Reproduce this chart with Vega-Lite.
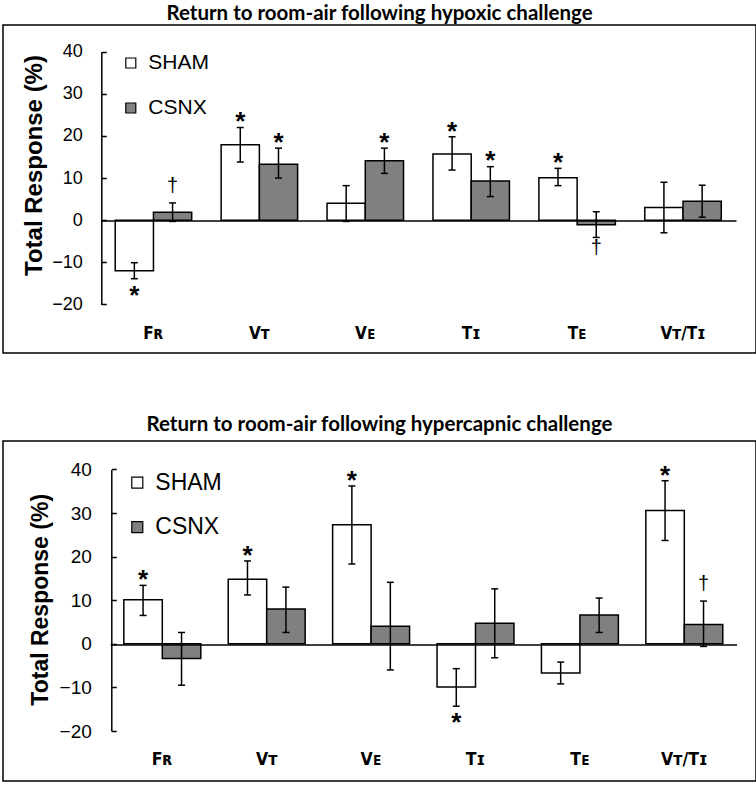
{
  "$schema": "https://vega.github.io/schema/vega-lite/v6.json",
  "padding": {"left": 2, "top": 2, "right": 0, "bottom": 0},
  "background": "white",
  "spacing": 59,
  "config": {
    "view": {"stroke": "black", "strokeWidth": 1.5},
    "axis": {"domainColor": "black", "tickColor": "black", "labelColor": "black", "titleColor": "black", "labelFont": "Liberation Sans", "titleFont": "Liberation Sans", "grid": false},
    "title": {"font": "Lato", "fontSize": 20.5, "fontWeight": "bold", "color": "black", "anchor": "middle"},
    "text": {"color": "black"}
  },
  "resolve": {"scale": {"x": "independent", "y": "independent", "xOffset": "independent", "fill": "independent"}, "legend": {"fill": "independent"}},
  "data": {"values": [
    {"panel": "hypoxic", "param": "Fʀ", "group": "SHAM", "mean": -12.0, "lo": -13.9, "hi": -10.1, "sig": "*", "sigpos": "below"},
    {"panel": "hypoxic", "param": "Fʀ", "group": "CSNX", "mean": 1.9, "lo": -0.3, "hi": 4.1, "sig": "†", "sigpos": "above"},
    {"panel": "hypoxic", "param": "Vᴛ", "group": "SHAM", "mean": 17.9, "lo": 13.8, "hi": 22.0, "sig": "*", "sigpos": "above"},
    {"panel": "hypoxic", "param": "Vᴛ", "group": "CSNX", "mean": 13.3, "lo": 10.0, "hi": 17.1, "sig": "*", "sigpos": "above"},
    {"panel": "hypoxic", "param": "Vᴇ", "group": "SHAM", "mean": 4.0, "lo": -0.3, "hi": 8.2, "sig": "", "sigpos": ""},
    {"panel": "hypoxic", "param": "Vᴇ", "group": "CSNX", "mean": 14.1, "lo": 11.1, "hi": 17.1, "sig": "*", "sigpos": "above"},
    {"panel": "hypoxic", "param": "Tɪ", "group": "SHAM", "mean": 15.7, "lo": 11.9, "hi": 19.8, "sig": "*", "sigpos": "above"},
    {"panel": "hypoxic", "param": "Tɪ", "group": "CSNX", "mean": 9.3, "lo": 5.6, "hi": 12.7, "sig": "*", "sigpos": "above"},
    {"panel": "hypoxic", "param": "Tᴇ", "group": "SHAM", "mean": 10.1, "lo": 8.2, "hi": 12.3, "sig": "*", "sigpos": "above"},
    {"panel": "hypoxic", "param": "Tᴇ", "group": "CSNX", "mean": -1.1, "lo": -4.1, "hi": 2.0, "sig": "†", "sigpos": "below"},
    {"panel": "hypoxic", "param": "Vᴛ/Tɪ", "group": "SHAM", "mean": 3.0, "lo": -3.0, "hi": 9.0, "sig": "", "sigpos": ""},
    {"panel": "hypoxic", "param": "Vᴛ/Tɪ", "group": "CSNX", "mean": 4.5, "lo": 0.7, "hi": 8.3, "sig": "", "sigpos": ""},
    {"panel": "hypercapnic", "param": "Fʀ", "group": "SHAM", "mean": 10.1, "lo": 6.5, "hi": 13.4, "sig": "*", "sigpos": "above"},
    {"panel": "hypercapnic", "param": "Fʀ", "group": "CSNX", "mean": -3.4, "lo": -9.5, "hi": 2.6, "sig": "", "sigpos": ""},
    {"panel": "hypercapnic", "param": "Vᴛ", "group": "SHAM", "mean": 14.8, "lo": 11.2, "hi": 19.0, "sig": "*", "sigpos": "above"},
    {"panel": "hypercapnic", "param": "Vᴛ", "group": "CSNX", "mean": 8.0, "lo": 2.6, "hi": 13.0, "sig": "", "sigpos": ""},
    {"panel": "hypercapnic", "param": "Vᴇ", "group": "SHAM", "mean": 27.3, "lo": 18.3, "hi": 36.2, "sig": "*", "sigpos": "above"},
    {"panel": "hypercapnic", "param": "Vᴇ", "group": "CSNX", "mean": 4.0, "lo": -6.0, "hi": 14.1, "sig": "", "sigpos": ""},
    {"panel": "hypercapnic", "param": "Tɪ", "group": "SHAM", "mean": -9.9, "lo": -14.3, "hi": -5.7, "sig": "*", "sigpos": "below"},
    {"panel": "hypercapnic", "param": "Tɪ", "group": "CSNX", "mean": 4.7, "lo": -3.2, "hi": 12.6, "sig": "", "sigpos": ""},
    {"panel": "hypercapnic", "param": "Tᴇ", "group": "SHAM", "mean": -6.7, "lo": -9.2, "hi": -4.2, "sig": "", "sigpos": ""},
    {"panel": "hypercapnic", "param": "Tᴇ", "group": "CSNX", "mean": 6.6, "lo": 2.6, "hi": 10.5, "sig": "", "sigpos": ""},
    {"panel": "hypercapnic", "param": "Vᴛ/Tɪ", "group": "SHAM", "mean": 30.6, "lo": 23.7, "hi": 37.4, "sig": "*", "sigpos": "above"},
    {"panel": "hypercapnic", "param": "Vᴛ/Tɪ", "group": "CSNX", "mean": 4.4, "lo": -0.6, "hi": 9.8, "sig": "†", "sigpos": "above"}
  ]},
  "vconcat": [
    {
      "title": {"text": "Return to room-air following hypoxic challenge", "offset": 1},
      "width": 753,
      "height": 328,
      "transform": [{"filter": "datum.panel == 'hypoxic'"}],
      "encoding": {
        "x": {"field": "param", "type": "nominal", "sort": ["Fʀ", "Vᴛ", "Vᴇ", "Tɪ", "Tᴇ", "Vᴛ/Tɪ"],
          "scale": {"range": [97.5, 733], "paddingInner": 0.278, "paddingOuter": 0.139},
          "axis": {"title": null, "orient": "bottom", "offset": -132.6, "ticks": false, "tickSize": 0, "labelPadding": 113.3, "labelBaseline": "middle", "labelAngle": 0, "domainWidth": 1.5, "zindex": 1, "labelFont": "DejaVu Sans Condensed, DejaVu Sans", "labelFontSize": 17, "labelFontWeight": "bold"}},
        "xOffset": {"field": "group", "type": "nominal", "sort": ["SHAM", "CSNX"]}
      },
      "layer": [
        {
          "mark": {"type": "bar", "stroke": "black", "strokeWidth": 1.5},
          "encoding": {
            "y": {"field": "mean", "type": "quantitative",
              "scale": {"domain": [-20, 40], "range": [279.4, 26.7], "nice": false},
              "axis": {"title": "Total Response (%)", "values": [-20, -10, 0, 10, 20, 30, 40], "offset": -98.3, "tickSize": -5, "labelPadding": 24, "domainWidth": 1.5, "tickWidth": 1.5, "labelFontSize": 18, "titleFontSize": 24, "titleFontWeight": "bold", "titleX": -67, "titleY": 140, "titleAlign": "center", "titleBaseline": "middle", "titleAngle": -90}},
            "fill": {"field": "group", "type": "nominal", "sort": ["SHAM", "CSNX"],
              "scale": {"domain": ["SHAM", "CSNX"], "range": ["white", "#808080"]},
              "legend": {"title": null, "orient": "none", "legendX": 117.3, "legendY": 27.5, "symbolType": "square", "symbolSize": 100, "symbolStrokeColor": "black", "symbolStrokeWidth": 1.2, "labelFontSize": 21, "labelFont": "Liberation Sans", "labelColor": "black", "labelOffset": 7, "rowPadding": 23, "padding": 0}}
          }
        },
        {
          "mark": {"type": "rule", "strokeWidth": 1.5, "color": "black"},
          "encoding": {"y": {"field": "lo", "type": "quantitative"}, "y2": {"field": "hi"}}
        },
        {
          "mark": {"type": "tick", "orient": "horizontal", "size": 7, "thickness": 1.5, "color": "black", "opacity": 1},
          "encoding": {"y": {"field": "lo", "type": "quantitative"}}
        },
        {
          "mark": {"type": "tick", "orient": "horizontal", "size": 7, "thickness": 1.5, "color": "black", "opacity": 1},
          "encoding": {"y": {"field": "hi", "type": "quantitative"}}
        },
        {
          "transform": [{"filter": "datum.sig == '*' && datum.sigpos == 'above'"}],
          "mark": {"type": "text", "color": "black", "font": "Liberation Sans", "fontWeight": "bold", "fontSize": 26, "baseline": "alphabetic", "dy": 2.8},
          "encoding": {"y": {"field": "hi", "type": "quantitative"}, "text": {"field": "sig"}}
        },
        {
          "transform": [{"filter": "datum.sig == '*' && datum.sigpos == 'below'"}],
          "mark": {"type": "text", "color": "black", "font": "Liberation Sans", "fontWeight": "bold", "fontSize": 26, "baseline": "alphabetic", "dy": 24.8},
          "encoding": {"y": {"field": "lo", "type": "quantitative"}, "text": {"field": "sig"}}
        },
        {
          "transform": [{"filter": "datum.sig == '†' && datum.sigpos == 'above'"}],
          "mark": {"type": "text", "color": "black", "font": "Liberation Sans", "fontSize": 20, "baseline": "alphabetic", "dy": -11},
          "encoding": {"y": {"field": "hi", "type": "quantitative"}, "text": {"field": "sig"}}
        },
        {
          "transform": [{"filter": "datum.sig == '†' && datum.sigpos == 'below'"}],
          "mark": {"type": "text", "color": "black", "font": "Liberation Sans", "fontSize": 20, "baseline": "alphabetic", "dy": 17},
          "encoding": {"y": {"field": "lo", "type": "quantitative"}, "text": {"field": "sig"}}
        }
      ]
    },
    {
      "title": {"text": "Return to room-air following hypercapnic challenge", "offset": 6},
      "width": 753,
      "height": 340,
      "transform": [{"filter": "datum.panel == 'hypercapnic'"}],
      "encoding": {
        "x": {"field": "param", "type": "nominal", "sort": ["Fʀ", "Vᴛ", "Vᴇ", "Tɪ", "Tᴇ", "Vᴛ/Tɪ"],
          "scale": {"range": [107.1, 733.5], "paddingInner": 0.263, "paddingOuter": 0.1315},
          "axis": {"title": null, "orient": "bottom", "offset": -136.6, "ticks": false, "tickSize": 0, "labelPadding": 114.8, "labelBaseline": "middle", "labelAngle": 0, "domainWidth": 1.5, "zindex": 1, "labelFont": "DejaVu Sans Condensed, DejaVu Sans", "labelFontSize": 17.5, "labelFontWeight": "bold"}},
        "xOffset": {"field": "group", "type": "nominal", "sort": ["SHAM", "CSNX"]}
      },
      "layer": [
        {
          "mark": {"type": "bar", "stroke": "black", "strokeWidth": 1.5},
          "encoding": {
            "y": {"field": "mean", "type": "quantitative",
              "scale": {"domain": [-20, 40], "range": [290, 28.4], "nice": false},
              "axis": {"title": "Total Response (%)", "values": [-20, -10, 0, 10, 20, 30, 40], "offset": -108.3, "tickSize": -5, "labelPadding": 25, "domainWidth": 1.5, "tickWidth": 1.5, "labelFontSize": 19, "titleFontSize": 23, "titleFontWeight": "bold", "titleX": -71, "titleY": 158.3, "titleAlign": "center", "titleBaseline": "middle", "titleAngle": -90}},
            "fill": {"field": "group", "type": "nominal", "sort": ["SHAM", "CSNX"],
              "scale": {"domain": ["SHAM", "CSNX"], "range": ["white", "#808080"]},
              "legend": {"title": null, "orient": "none", "legendX": 122.8, "legendY": 30.2, "symbolType": "square", "symbolSize": 121, "symbolStrokeColor": "black", "symbolStrokeWidth": 1.2, "labelFontSize": 23, "labelFont": "Liberation Sans", "labelColor": "black", "labelOffset": 6.5, "rowPadding": 20.5, "padding": 0}}
          }
        },
        {
          "mark": {"type": "rule", "strokeWidth": 1.5, "color": "black"},
          "encoding": {"y": {"field": "lo", "type": "quantitative"}, "y2": {"field": "hi"}}
        },
        {
          "mark": {"type": "tick", "orient": "horizontal", "size": 7, "thickness": 1.5, "color": "black", "opacity": 1},
          "encoding": {"y": {"field": "lo", "type": "quantitative"}}
        },
        {
          "mark": {"type": "tick", "orient": "horizontal", "size": 7, "thickness": 1.5, "color": "black", "opacity": 1},
          "encoding": {"y": {"field": "hi", "type": "quantitative"}}
        },
        {
          "transform": [{"filter": "datum.sig == '*' && datum.sigpos == 'above'"}],
          "mark": {"type": "text", "color": "black", "font": "Liberation Sans", "fontWeight": "bold", "fontSize": 26, "baseline": "alphabetic", "dy": 2.8},
          "encoding": {"y": {"field": "hi", "type": "quantitative"}, "text": {"field": "sig"}}
        },
        {
          "transform": [{"filter": "datum.sig == '*' && datum.sigpos == 'below'"}],
          "mark": {"type": "text", "color": "black", "font": "Liberation Sans", "fontWeight": "bold", "fontSize": 26, "baseline": "alphabetic", "dy": 24.8},
          "encoding": {"y": {"field": "lo", "type": "quantitative"}, "text": {"field": "sig"}}
        },
        {
          "transform": [{"filter": "datum.sig == '†' && datum.sigpos == 'above'"}],
          "mark": {"type": "text", "color": "black", "font": "Liberation Sans", "fontSize": 20, "baseline": "alphabetic", "dy": -11},
          "encoding": {"y": {"field": "hi", "type": "quantitative"}, "text": {"field": "sig"}}
        },
        {
          "transform": [{"filter": "datum.sig == '†' && datum.sigpos == 'below'"}],
          "mark": {"type": "text", "color": "black", "font": "Liberation Sans", "fontSize": 20, "baseline": "alphabetic", "dy": 17},
          "encoding": {"y": {"field": "lo", "type": "quantitative"}, "text": {"field": "sig"}}
        }
      ]
    }
  ]
}
